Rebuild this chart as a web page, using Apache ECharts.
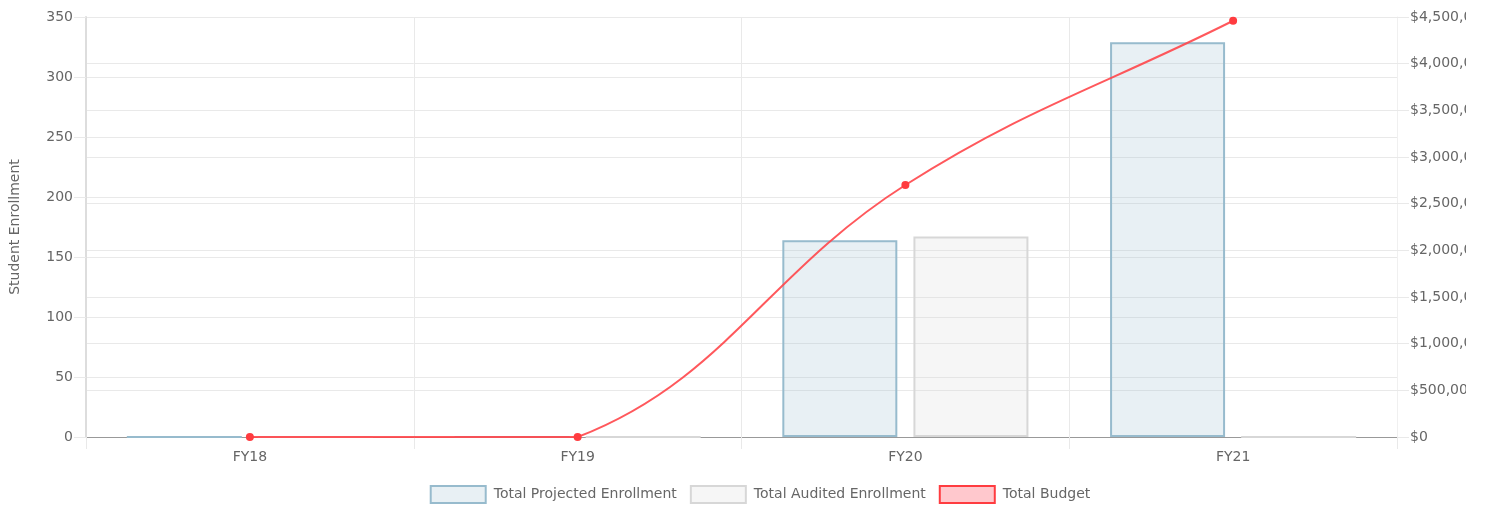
<!DOCTYPE html>
<html>
<head>
<meta charset="utf-8">
<script src="https://cdn.jsdelivr.net/npm/echarts@6/dist/echarts.min.js"></script>
<style>
html, body { margin: 0; padding: 0; background: #fff; overflow: hidden; }
.frame { width: 1466px; height: 506px; overflow: hidden; }
#chart { width: 1520px; height: 506px; }
</style>
</head>
<body>
<div class="frame"><div id="chart"></div></div>
<script>
const years = ['FY18', 'FY19', 'FY20', 'FY21'];
const projected = [0, 0, 164, 329];
const audited = [0, 0, 167, 0];
const budget = [0, 0, 2700000, 4460000];

const enrollTicks = { min: 0, max: 350, interval: 50 };
const budgetTicks = { min: 0, max: 4500000, interval: 500000 };

const textColor = '#666';
const gridColor = '#e9e9e9';
const lineColor = 'rgba(255,70,74,0.9)';
const fontFamily = 'DejaVu Sans, sans-serif';
const tension = 0.4;

function money(v) {
    return '$' + v.toLocaleString('en-US');
}

// spline like the original chart: control points from prev/next neighbours
function splineSegment(params, api) {
    var i = params.dataIndex;
    if (i >= budget.length - 1) return null;
    var pts = budget.map(function (v, k) { return api.coord([k, v]); });
    function cps(k) {
        var prev = pts[Math.max(k - 1, 0)], cur = pts[k], next = pts[Math.min(k + 1, pts.length - 1)];
        var d01 = Math.hypot(cur[0] - prev[0], cur[1] - prev[1]);
        var d12 = Math.hypot(next[0] - cur[0], next[1] - cur[1]);
        var s01 = d01 / (d01 + d12 || 1), s12 = d12 / (d01 + d12 || 1);
        var fa = tension * s01, fb = tension * s12;
        return {
            prev: [cur[0] - fa * (next[0] - prev[0]), cur[1] - fa * (next[1] - prev[1])],
            next: [cur[0] + fb * (next[0] - prev[0]), cur[1] + fb * (next[1] - prev[1])]
        };
    }
    var bottom = params.coordSys.y + params.coordSys.height;
    var top = params.coordSys.y;
    function cap(p) { return [p[0], Math.min(bottom, Math.max(top, p[1]))]; }
    var a = pts[i], b = pts[i + 1];
    var c1 = cap(cps(i).next), c2 = cap(cps(i + 1).prev);
    return {
        type: 'bezierCurve',
        shape: { x1: a[0], y1: a[1], x2: b[0], y2: b[1], cpx1: c1[0], cpy1: c1[1], cpx2: c2[0], cpy2: c2[1] },
        style: { stroke: lineColor, lineWidth: 2, fill: null }
    };
}

var myChart = echarts.init(document.getElementById('chart'));
const option = {
    backgroundColor: '#fff',
    animation: false,
    textStyle: { fontFamily: fontFamily },
    grid: {
        left: 85,
        right: 123,
        top: 17,
        bottom: 69,
        containLabel: false
    },
    legend: {
        bottom: 2,
        padding: 0,
        left: 'center',
        itemWidth: 55,
        itemHeight: 17,
        itemGap: 13,
        icon: 'rect',
        textStyle: { color: textColor, fontSize: 14, fontFamily: fontFamily, padding: [0, 0, 0, 3] },
        data: ['Total Projected Enrollment', 'Total Audited Enrollment', 'Total Budget']
    },
    xAxis: {
        type: 'category',
        data: years,
        boundaryGap: true,
        axisLine: { show: true, lineStyle: { color: '#999', width: 1 } },
        axisTick: { show: true, length: 12, lineStyle: { color: gridColor } },
        axisLabel: { color: textColor, fontSize: 14, margin: 13 },
        splitLine: { show: true, lineStyle: { color: gridColor } }
    },
    yAxis: [{
        type: 'value',
        min: enrollTicks.min,
        max: enrollTicks.max,
        interval: enrollTicks.interval,
        name: 'Student Enrollment',
        nameLocation: 'middle',
        nameRotate: 90,
        nameGap: 64,
        nameTextStyle: { color: textColor, fontSize: 14 },
        axisLine: { show: true, lineStyle: { color: '#ddd', width: 2 } },
        axisTick: { show: true, length: 12, lineStyle: { color: gridColor } },
        axisLabel: { color: textColor, fontSize: 14, margin: 13 },
        splitLine: { show: true, lineStyle: { color: gridColor } }
    }, {
        type: 'value',
        position: 'right',
        min: budgetTicks.min,
        max: budgetTicks.max,
        interval: budgetTicks.interval,
        axisLine: { show: true, lineStyle: { color: '#f0f0f0' } },
        axisTick: { show: true, length: 12, lineStyle: { color: gridColor } },
        axisLabel: { color: textColor, fontSize: 14, margin: 13, formatter: money },
        splitLine: { show: true, lineStyle: { color: gridColor } }
    }],
    series: [{
        name: 'Total Projected Enrollment',
        type: 'bar',
        yAxisIndex: 0,
        barWidth: 115,
        barGap: '14%',
        data: projected,
        itemStyle: {
            color: 'rgba(151,187,205,0.22)',
            borderColor: 'rgba(151,187,205,1)',
            borderWidth: 2
        }
    }, {
        name: 'Total Audited Enrollment',
        type: 'bar',
        yAxisIndex: 0,
        barWidth: 115,
        data: audited,
        itemStyle: {
            color: 'rgba(220,220,220,0.25)',
            borderColor: 'rgba(215,215,215,1)',
            borderWidth: 2
        }
    }, {
        type: 'custom',
        yAxisIndex: 1,
        z: 4,
        silent: true,
        renderItem: splineSegment,
        data: budget.map(function (v, i) { return [i, v]; }),
        encode: { x: 0, y: 1 }
    }, {
        name: 'Total Budget',
        type: 'line',
        yAxisIndex: 1,
        z: 5,
        data: budget.map(function (v) {
            return { value: v, itemStyle: { color: 'rgba(255,60,64,1)' } };
        }),
        symbol: 'circle',
        symbolSize: 6,
        lineStyle: { opacity: 0 },
        itemStyle: {
            color: 'rgba(255,200,205,1)',
            borderColor: 'rgba(255,60,64,1)',
            borderWidth: 2
        },
        emphasis: { disabled: true }
    }]
};
myChart.setOption(option);
</script>
</body>
</html>
